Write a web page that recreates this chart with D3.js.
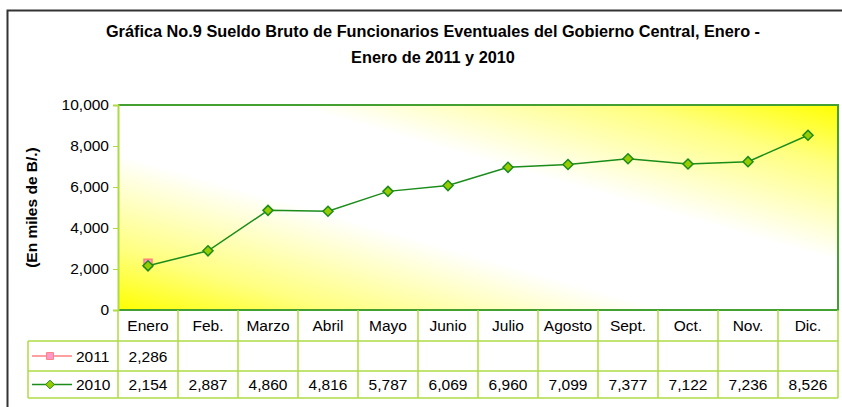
<!DOCTYPE html>
<html>
<head>
<meta charset="utf-8">
<script src="https://cdn.jsdelivr.net/npm/d3@7"></script>
<style>
  body { margin: 0; background: #fff; }
  svg { display: block; font-family: "Liberation Sans", Arial, sans-serif; }
</style>
</head>
<body>
<svg id="chart" width="842" height="407"></svg>
<script>
// chart data
const months = ["Enero", "Feb.", "Marzo", "Abril", "Mayo", "Junio", "Julio", "Agosto", "Sept.", "Oct.", "Nov.", "Dic."];
const values2011 = [2286, null, null, null, null, null, null, null, null, null, null, null];
const values2010 = [2154, 2887, 4860, 4816, 5787, 6069, 6960, 7099, 7377, 7122, 7236, 8526];
const yTicks = [0, 2000, 4000, 6000, 8000, 10000];
const titleLines = [
  "Gráfica No.9 Sueldo Bruto de Funcionarios Eventuales del Gobierno Central, Enero -",
  "Enero de 2011 y 2010"
];

const svg = d3.select("#chart");
const plot = { left: 118, right: 838, top: 105, bottom: 310 };
const gridColor = "#addb45";
const fmt = d3.format(",");
const fontSize = "15.5px";

// outer frame
svg.append("path")
  .attr("d", "M 7.5,420 V 10.5 H 850")
  .attr("fill", "none")
  .attr("stroke", "#333")
  .attr("stroke-width", 2);

// title
svg.append("g")
  .selectAll("text")
  .data(titleLines)
  .join("text")
  .attr("x", 433)
  .attr("y", (d, i) => 37 + i * 26)
  .attr("text-anchor", "middle")
  .style("font-weight", "bold")
  .style("font-size", "16.3px")
  .text(d => d);

// plot background: yellow in two corners, white through the middle
const defs = svg.append("defs");
const grad = defs.append("linearGradient")
  .attr("id", "bg")
  .attr("x1", 0).attr("y1", 1)
  .attr("x2", 1).attr("y2", 0);
[[0, "#ffff00"], [0.15, "#ffff80"], [0.38, "#ffffff"], [0.62, "#ffffff"], [0.85, "#ffff80"], [1, "#ffff00"]]
  .forEach(([o, c]) => grad.append("stop").attr("offset", o).attr("stop-color", c));

const x = d3.scaleBand()
  .domain(months)
  .range([plot.left, plot.right]);

const y = d3.scaleLinear()
  .domain([0, 10000])
  .range([plot.bottom, plot.top]);

svg.append("rect")
  .attr("x", plot.left)
  .attr("y", plot.top)
  .attr("width", plot.right - plot.left)
  .attr("height", plot.bottom - plot.top)
  .attr("fill", "url(#bg)");

// plot border: darker green on top, right and bottom
svg.append("path")
  .attr("d", `M ${plot.left},${plot.top} H ${plot.right} V ${plot.bottom} H ${plot.left}`)
  .attr("fill", "none")
  .attr("stroke", "#45a032")
  .attr("stroke-width", 2);

// y axis
const yAxis = svg.append("g")
  .attr("transform", `translate(${plot.left},0)`)
  .call(d3.axisLeft(y).tickValues(yTicks).tickFormat(fmt).tickSize(5).tickPadding(4));
yAxis.select(".domain").attr("stroke", gridColor).attr("stroke-width", 2);
yAxis.selectAll(".tick line").attr("stroke", gridColor);
yAxis.selectAll(".tick text")
  .style("font-size", fontSize)
  .attr("fill", "#000")
  .attr("font-family", null);

svg.append("text")
  .attr("transform", `translate(37,${(plot.top + plot.bottom) / 2}) rotate(-90)`)
  .attr("text-anchor", "middle")
  .style("font-weight", "bold")
  .style("font-size", fontSize)
  .text("(En miles de B/.)");

// data table below the plot
const rowTops = [310, 341, 371, 398];
const tableLeft = 28;
const table = svg.append("g")
  .attr("stroke", gridColor)
  .attr("stroke-width", 1.5);

rowTops.slice(1).forEach(t => {
  table.append("line").attr("x1", tableLeft).attr("x2", plot.right).attr("y1", t).attr("y2", t);
});
table.append("line").attr("x1", tableLeft).attr("x2", tableLeft).attr("y1", rowTops[1]).attr("y2", rowTops[3]);
months.forEach(m => {
  table.append("line").attr("x1", x(m)).attr("x2", x(m)).attr("y1", rowTops[0]).attr("y2", rowTops[3]);
});
table.append("line").attr("x1", plot.right).attr("x2", plot.right).attr("y1", rowTops[0]).attr("y2", rowTops[3]);

const cellText = (row, text, m) => svg.append("text")
  .attr("x", x(m) + x.bandwidth() / 2)
  .attr("y", (rowTops[row] + rowTops[row + 1]) / 2 + 5.5)
  .attr("text-anchor", "middle")
  .style("font-size", fontSize)
  .text(text);

months.forEach((m, i) => {
  cellText(0, m, m);
  if (values2011[i] != null) cellText(1, fmt(values2011[i]), m);
  cellText(2, fmt(values2010[i]), m);
});

// series
const series = [
  { name: "2011", values: values2011, line: "#ff8080", fill: "#ff99cc", stroke: "#ff8080", symbol: d3.symbolSquare, size: 64, row: 1 },
  { name: "2010", values: values2010, line: "#1a8c1a", fill: "#99cc00", stroke: "#1a8c1a", symbol: d3.symbolDiamond2, size: 64, row: 2 }
];

const line = d3.line()
  .defined(d => d.v != null)
  .x(d => x(d.m) + x.bandwidth() / 2)
  .y(d => y(d.v));

series.forEach(s => {
  const pts = months.map((m, i) => ({ m, v: s.values[i] }));
  const g = svg.append("g");
  g.append("path")
    .datum(pts)
    .attr("fill", "none")
    .attr("stroke", s.line)
    .attr("stroke-width", 1.5)
    .attr("d", line);
  g.selectAll("path.pt")
    .data(pts.filter(d => d.v != null))
    .join("path")
    .attr("class", "pt")
    .attr("transform", d => `translate(${x(d.m) + x.bandwidth() / 2},${y(d.v)})`)
    .attr("d", d3.symbol(s.symbol, s.size))
    .attr("fill", s.fill)
    .attr("stroke", s.stroke)
    .attr("stroke-width", 1.5);

  // legend key in table
  const ly = (rowTops[s.row] + rowTops[s.row + 1]) / 2;
  svg.append("line")
    .attr("x1", 32).attr("x2", 72)
    .attr("y1", ly).attr("y2", ly)
    .attr("stroke", s.line)
    .attr("stroke-width", 1.5);
  svg.append("path")
    .attr("transform", `translate(50,${ly})`)
    .attr("d", d3.symbol(s.symbol, s.size * 0.75))
    .attr("fill", s.fill)
    .attr("stroke", s.stroke)
    .attr("stroke-width", 1);
  svg.append("text")
    .attr("x", 76)
    .attr("y", ly + 5.5)
    .style("font-size", fontSize)
    .text(s.name);
});
</script>
</body>
</html>
